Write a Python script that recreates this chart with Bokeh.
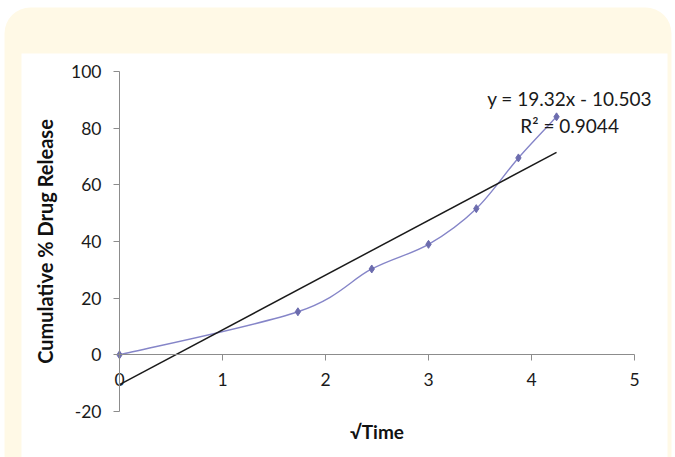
from bokeh.plotting import figure
from bokeh.models import BoxAnnotation, Label, Range1d, FixedTicker
from bokeh.embed import file_html
from bokeh.resources import INLINE

# ---- data ----
sqrt_time = [0.0, 1.732, 2.449, 3.0, 3.464, 3.873, 4.243]
release = [0.0, 15.2, 30.3, 39.0, 51.6, 69.5, 84.0]
slope = 19.32
intercept = -10.503
r_squared = 0.9044
x_ticks = [0, 1, 2, 3, 4, 5]
y_ticks = [-20, 0, 20, 40, 60, 80, 100]
y_tick_labels = ["-20", "0", "20", "40", "60", "80", "100"]
eq_text = "y = 19.32x - 10.503"
r2_text = "R\u00b2 = 0.9044"
x_title = "\u221aTime"
y_title = "Cumulative % Drug Release"

FONT = "Lato"
W, H = 675, 457
# pixel layout of the plotting area inside the canvas
PX0, PX5 = 119.0, 634.0      # x = 0 and x = 5
PY100, PYM20 = 71.0, 411.0   # y = 100 and y = -20
sx = (PX5 - PX0) / 5.0
sy = (PYM20 - PY100) / 120.0

p = figure(width=W, height=H, output_backend="svg", toolbar_location=None,
           x_range=Range1d(0 - PX0 / sx, 5 + (W - PX5) / sx),
           y_range=Range1d(-20 - (H - PYM20) / sy, 100 + PY100 / sy),
           min_border=0)
p.border_fill_color = "white"
p.background_fill_color = "white"
p.outline_line_color = None
p.grid.visible = False

# background decorations (canvas units)
cream = BoxAnnotation(left=4, right=671, top=7, bottom=480,
                      left_units="canvas", right_units="canvas",
                      top_units="canvas", bottom_units="canvas",
                      fill_color="#FFF9E6", fill_alpha=1.0, line_color=None,
                      border_radius=26, level="underlay")
panel = BoxAnnotation(left=21, right=667, top=53, bottom=480,
                      left_units="canvas", right_units="canvas",
                      top_units="canvas", bottom_units="canvas",
                      fill_color="white", fill_alpha=1.0, line_color=None,
                      level="underlay")
p.add_layout(cream)
p.add_layout(panel)

# axes
xa = p.xaxis[0]
xa.fixed_location = 0
xa.bounds = (0, 5)
xa.ticker = FixedTicker(ticks=x_ticks)
xa.minor_tick_line_color = None
xa.major_tick_in = 0
xa.major_tick_out = 6
xa.axis_line_color = "#8c8c8c"
xa.major_tick_line_color = "#8c8c8c"
xa.major_label_text_font = FONT
xa.major_label_text_font_size = "17.5px"
xa.major_label_text_color = "#1a1a1a"
xa.major_label_standoff = 12
xa.axis_label = x_title
xa.axis_label_text_font = FONT
xa.axis_label_text_font_style = "bold"
xa.axis_label_text_font_size = "19px"
xa.axis_label_text_color = "#111111"
xa.axis_label_standoff = 31

ya = p.yaxis[0]
ya.fixed_location = 0
ya.bounds = (-20, 100)
ya.ticker = FixedTicker(ticks=y_ticks)
ya.major_label_overrides = dict(zip(y_ticks, y_tick_labels))
ya.minor_tick_line_color = None
ya.major_tick_in = 0
ya.major_tick_out = 6
ya.axis_line_color = "#8c8c8c"
ya.major_tick_line_color = "#8c8c8c"
ya.major_label_text_font = FONT
ya.major_label_text_font_size = "17.5px"
ya.major_label_text_color = "#1a1a1a"
ya.major_label_standoff = 12
ya.axis_label = y_title
ya.axis_label_text_font = FONT
ya.axis_label_text_font_style = "bold"
ya.axis_label_text_font_size = "20px"
ya.axis_label_text_color = "#111111"
ya.axis_label_standoff = 11

# smoothed series via bezier (Catmull-Rom style control points)
n = len(sqrt_time)
x0s, y0s, x1s, y1s, cx0s, cy0s, cx1s, cy1s = [], [], [], [], [], [], [], []
for i in range(n - 1):
    ip = max(i - 1, 0)
    i2 = min(i + 2, n - 1)
    x0s.append(sqrt_time[i]); y0s.append(release[i])
    x1s.append(sqrt_time[i + 1]); y1s.append(release[i + 1])
    cx0s.append(sqrt_time[i] + (sqrt_time[i + 1] - sqrt_time[ip]) / 6)
    cy0s.append(release[i] + (release[i + 1] - release[ip]) / 6)
    cx1s.append(sqrt_time[i + 1] - (sqrt_time[i2] - sqrt_time[i]) / 6)
    cy1s.append(release[i + 1] - (release[i2] - release[i]) / 6)
p.bezier(x0=x0s, y0=y0s, x1=x1s, y1=y1s, cx0=cx0s, cy0=cy0s, cx1=cx1s, cy1=cy1s,
         line_color="#8585C8", line_width=1.4)
p.scatter(sqrt_time, release, marker="diamond", size=8,
          fill_color="#6C6CAE", line_color="#6C6CAE")

# linear trendline
tx = [0, max(sqrt_time)]
ty = [slope * v + intercept for v in tx]
p.line(tx, ty, line_color="#1a1a1a", line_width=1.5)

# equation labels
p.add_layout(Label(x=4.37, y=90.3, text=eq_text, text_align="center", text_baseline="middle",
                   text_font=FONT, text_font_size="19px", text_color="#1a1a1a"))
p.add_layout(Label(x=4.37, y=81.0, text=r2_text, text_align="center", text_baseline="middle",
                   text_font=FONT, text_font_size="19px", text_color="#1a1a1a"))

open("out.html", "w").write(file_html(p, INLINE))
